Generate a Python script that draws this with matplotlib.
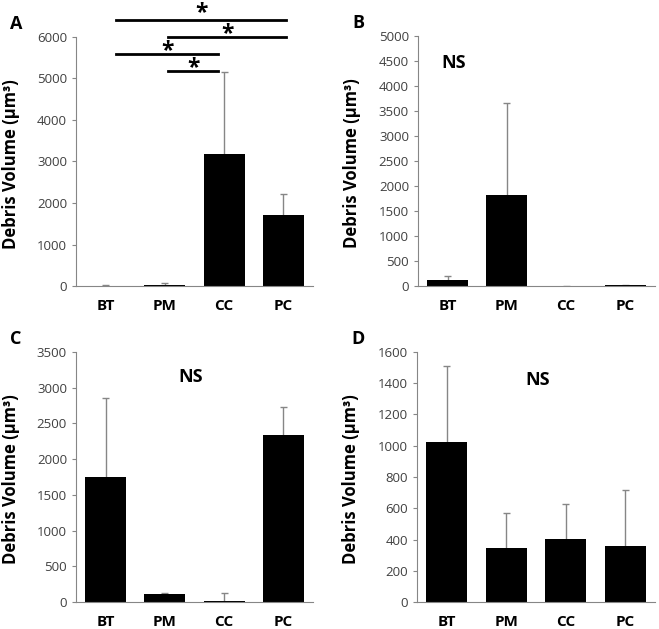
import matplotlib
matplotlib.use("Agg")
import matplotlib.pyplot as plt
from matplotlib.font_manager import FontProperties
from matplotlib.textpath import TextPath

categories = ["BT", "PM", "CC", "PC"]

# means and upper error (SD) per panel
vol_a = [10, 30, 3180, 1700]
err_a = [10, 40, 1980, 510]
vol_b = [120, 1820, 0, 15]
err_b = [80, 1840, 0, 10]
vol_c = [1750, 115, 10, 2340]
err_c = [1110, 10, 120, 390]
vol_d = [1025, 345, 405, 360]
err_d = [485, 225, 220, 355]

# significance bars in panel A: (start, end, height)
sig_a = [(0.18, 3.05, 6400), (1.05, 3.05, 6000), (0.18, 1.9, 5580), (1.05, 1.9, 5170)]

plt.rcParams["font.family"] = ["Open Sans", "DejaVu Sans"]

grey = "#868686"
txt = "#404040"

fig = plt.figure(figsize=(6.59, 6.29), dpi=100)

panels = [
    ("A", [0.1153, 0.5453, 0.3597, 0.3959], vol_a, err_a, 6000, 1000, -0.236),
    ("B", [0.6343, 0.5453, 0.3597, 0.3975], vol_b, err_b, 5000, 500, -0.24),
    ("C", [0.1153, 0.0429, 0.3597, 0.3975], vol_c, err_c, 3500, 500, -0.236),
    ("D", [0.6328, 0.0429, 0.3612, 0.3975], vol_d, err_d, 1600, 200, -0.238),
]

axes = {}
for letter, rect, vals, errs, ymax, step, lab_x in panels:
    ax = fig.add_axes(rect)
    axes[letter] = ax
    x = list(range(len(categories)))
    tops = [v + e for v, e in zip(vals, errs)]
    # only the upper half of the error bar is shown
    ax.vlines(x, vals, tops, color=grey, lw=1, zorder=1)
    ax.hlines(tops, [i - 0.06 for i in x], [i + 0.06 for i in x], color=grey, lw=1, zorder=1)
    ax.bar(x, vals, width=0.69, color="black", zorder=2)
    ax.set_xlim(-0.5, 3.5)
    ax.set_ylim(0, ymax)
    ax.set_yticks(range(0, ymax + 1, step))
    ax.set_xticks(x)
    ax.set_xticklabels(categories, fontsize=11, fontweight="bold", color="black")
    ax.tick_params(axis="x", length=0, pad=9)
    ax.tick_params(axis="y", length=3, color=grey, labelsize=9.5, labelcolor=txt)
    for s in ["top", "right"]:
        ax.spines[s].set_visible(False)
    for s in ["left", "bottom"]:
        ax.spines[s].set_color(grey)
    ax.set_ylabel("Debris Volume (µm³)", fontsize=12, fontweight="bold")
    ax.yaxis.set_label_coords(lab_x, 0.49)
    fig.text(rect[0] - 0.1, rect[1] + rect[3] + 0.02, letter,
             fontsize=13, fontweight="bold", ha="left", va="center")

# size the asterisk glyph to ~11 px wide and centre it just above each line
star_prop = FontProperties(family="Open Sans", weight="bold")
ext = TextPath((0, 0), "*", size=1, prop=star_prop).get_extents()
star_size = (11 * 0.72) / ext.width
star_mid = (ext.y0 + ext.y1) / 2 * star_size
star_dx = (ext.x0 + ext.x1) / 2 * star_size

ax = axes["A"]
for i, (x0, x1, h) in enumerate(sig_a):
    ax.plot([x0, x1], [h, h], color="black", lw=2, clip_on=False)
    gap_px = 13 if i == 0 else 9
    ax.annotate("*", xy=((x0 + x1) / 2, h), xytext=(-star_dx, gap_px * 0.72 - star_mid),
                textcoords="offset points", fontsize=star_size, fontweight="bold",
                ha="left", va="baseline", annotation_clip=False)

axes["B"].text(0.1, 4450, "NS", fontsize=13, fontweight="bold", ha="center", va="center")
axes["C"].text(1.43, 3150, "NS", fontsize=13, fontweight="bold", ha="center", va="center")
axes["D"].text(1.53, 1420, "NS", fontsize=13, fontweight="bold", ha="center", va="center")

fig.savefig("out.png", dpi=100)
